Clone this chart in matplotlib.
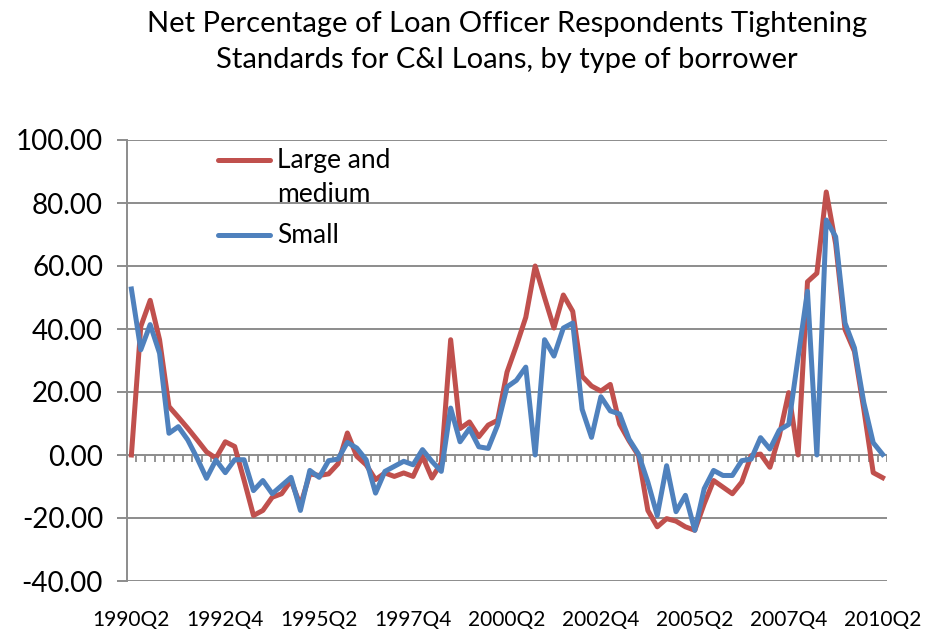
import numpy as np
import matplotlib
matplotlib.use("Agg")
from matplotlib import pyplot as plt

plt.rcParams['font.family'] = ['Lato', 'DejaVu Sans']

# quarterly, 1990Q2 .. 2010Q2
quarters = [f"{y}Q{q}" for y in range(1990, 2011) for q in range(1, 5)][1:82]

large_medium = [0.0, 40.8, 49.1, 36.6, 15.4, 12.0, 8.5, 4.8, 1.0, -1.0,
                4.2, 2.7, -8.0, -19.2, -17.6, -13.4, -12.3, -8.1, -16.0, -6.0,
                -6.5, -6.0, -2.8, 7.0, -0.4, -3.1, -7.8, -5.7, -6.8, -5.7,
                -6.8, -0.4, -7.3, -2.5, 36.6, 8.4, 10.5, 5.8, 9.5, 11.0,
                26.3, 34.7, 43.7, 60.0, 50.0, 40.3, 50.8, 45.6, 25.0, 21.9,
                20.3, 22.4, 9.8, 4.5, -0.2, -17.6, -22.8, -20.2, -21.0, -22.8,
                -23.9, -15.5, -8.1, -10.2, -12.3, -8.6, -0.2, 0.3, -3.9, 6.1,
                19.8, 0.0, 55.0, 57.7, 83.5, 67.0, 39.8, 32.9, 14.5, -5.6,
                -7.2]

small = [52.7, 33.4, 41.4, 32.3, 6.9, 9.0, 4.8, -1.0, -7.4, -1.6,
         -5.6, -1.5, -1.5, -11.3, -8.1, -12.3, -9.7, -7.1, -17.6, -4.9,
         -7.1, -1.8, -1.3, 4.0, 2.2, -1.5, -12.1, -5.2, -3.6, -2.0,
         -3.1, 1.7, -2.0, -5.2, 14.9, 4.2, 8.4, 2.6, 2.1, 9.5,
         21.6, 23.7, 27.9, 0.0, 36.6, 31.4, 40.3, 41.9, 14.5, 5.6,
         18.5, 14.0, 13.0, 5.0, 0.3, -8.6, -19.2, -3.4, -18.0, -12.8,
         -23.9, -10.7, -4.9, -6.5, -6.5, -1.8, -1.3, 5.5, 1.9, 7.9,
         9.7, 31.0, 52.0, 0.0, 74.6, 69.3, 41.9, 34.0, 16.6, 3.9,
         0.2]

yticks = [-40, -20, 0, 20, 40, 60, 80, 100]

RED = '#C0504D'
BLUE = '#4F81BD'
GRID = '#8C8C8C'

W, H = 932, 631
fig = plt.figure(figsize=(W / 100, H / 100), dpi=100)
ax = fig.add_axes([126.7 / W, (H - 581) / H, 760.6 / W, 441 / H])

x = np.arange(len(quarters))
ax.plot(x, large_medium, color=RED, lw=3.6, solid_joinstyle='round', zorder=3)
ax.plot(x, small, color=BLUE, lw=3.6, solid_joinstyle='round', zorder=4)

ax.set_xlim(-0.5, len(quarters) - 0.5)
ax.set_ylim(-40, 100)

# gridlines + category axis at zero with tick marks between categories
for v in yticks:
    ax.axhline(v, color=GRID, lw=1.4, zorder=1)
ax.vlines(np.arange(-0.5, len(quarters)), -2.2, 0, colors=GRID, lw=1.3, zorder=1)

for s in ['top', 'right', 'bottom']:
    ax.spines[s].set_visible(False)
ax.spines['left'].set_color(GRID)
ax.spines['left'].set_linewidth(1.4)

ax.set_yticks(yticks)
ax.set_yticklabels([f"{v:.2f}" for v in yticks], fontsize=20)
ax.tick_params(axis='y', length=7, width=1.4, color=GRID, pad=10)

ax.set_xticks(x[::10])
ax.set_xticklabels(quarters[::10], fontsize=15)
ax.tick_params(axis='x', length=0, pad=21)

# legend drawn Excel-style (handle aligned with first text line)
legend_items = [("Large and\nmedium", RED, 0.955), ("Small", BLUE, 0.785)]
for label, col, yy in legend_items:
    ax.plot([0.120, 0.188], [yy, yy], color=col, lw=3.6, transform=ax.transAxes,
            clip_on=False, solid_capstyle='round', zorder=5)
    ax.text(0.198, yy + 0.026, label, transform=ax.transAxes, fontsize=19,
            va='top', ha='left', linespacing=1.45, zorder=5)

fig.text(507 / W, 1 - 42 / H,
         "Net Percentage of Loan Officer Respondents Tightening\n"
         "Standards for C&I Loans, by type of borrower",
         ha='center', va='center', fontsize=21, linespacing=1.45)

fig.savefig('out.png', dpi=100)
